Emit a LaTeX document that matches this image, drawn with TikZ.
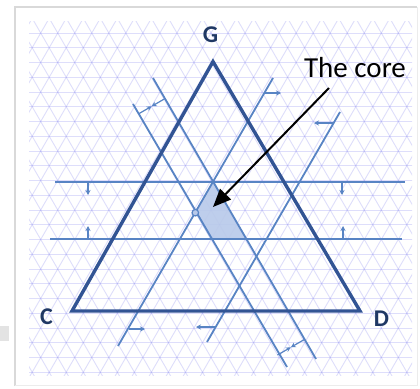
\documentclass[tikz,border=0pt]{standalone}
\usepackage{fontspec}
\setmainfont{Carlito}
\usetikzlibrary{arrows.meta,calc}
\definecolor{tricol}{RGB}{50,84,148}
\definecolor{linecol}{RGB}{88,132,196}
\definecolor{shadecol}{RGB}{184,201,234}
\definecolor{lblcol}{RGB}{31,56,100}
\definecolor{gridcol}{RGB}{130,130,240}
\begin{document}
\begin{tikzpicture}[x=1pt,y=-1pt,
  gridline/.style={draw=gridcol,opacity=0.26,line width=0.9pt},
  triline/.style={draw=tricol,line width=3.4pt,line join=miter},
  inline/.style={draw=linecol,line width=1.8pt},
  push/.style={draw=linecol,line width=1.2pt,-{Stealth[length=5pt,width=5pt]}},
  lbl/.style={text=lblcol,font=\fontsize{24}{25}\selectfont\bfseries,inner sep=0pt},
  pointer/.style={draw=black,line width=2pt,-{Triangle[length=18pt,width=15pt]}}]
\useasboundingbox (0,0) rectangle (420,388);
\fill[white] (0,0) rectangle (420,388);
\fill[gray!22] (0,326) rectangle (9,341);
% card
\draw[gray!30,line width=2.5pt] (15,386) -- (15,7) -- (417,7);
\draw[gray!15,line width=1pt] (15,385) -- (417,385) -- (417,7);
% grid
\begin{scope}
\clip (29,21) rectangle (412,375);
\foreach \k in {-1,...,24} {
  \draw[gridline] (0,{33+14.75*\k}) -- (420,{33+14.75*\k});
}
\foreach \j in {-16,...,36} {
  \pgfmathsetmacro\xo{40.7+17.03*\j}
  \draw[gridline] ({\xo-33*0.5774},0) -- ({\xo+367*0.5774},400);
  \draw[gridline] ({\xo+33*0.5774},0) -- ({\xo-367*0.5774},400);
}
\end{scope}
% core region
\coordinate (k1) at (213,182);
\coordinate (k2) at (245.9,239);
\coordinate (k3) at (210.5,239);
\coordinate (k4) at (195.3,212.7);
\fill[shadecol,opacity=0.9] (k1) -- (k2) -- (k3) -- (k4) -- cycle;
% horizontal lines
\coordinate (h1a) at (55,182); \coordinate (h1b) at (405,182);
\coordinate (h2a) at (50,239); \coordinate (h2b) at (402,239);
\draw[inline] (h1a) -- (h1b);
\draw[inline] (h2a) -- (h2b);
% lines parallel to GD
\coordinate (a1) at (153,78); \coordinate (a2) at (316,359);
\coordinate (b1) at (133,104); \coordinate (b2) at (287,367);
\draw[inline] (a1) -- (a2);
\draw[inline] (b1) -- (b2);
% lines parallel to GC
\coordinate (c1) at (273,78); \coordinate (c2) at (118,346);
\coordinate (d1) at (340,112); \coordinate (d2) at (207,342);
\draw[inline] (c1) -- (c2);
\draw[inline] (d1) -- (d2);
% triangle
\coordinate (g) at (213,61.6);
\coordinate (c) at (72,311);
\coordinate (d) at (360,311);
\draw[triline] (g) -- (c) -- (d) -- cycle;
% push arrows on horizontal lines
\coordinate (p1s) at (88,182); \coordinate (p1e) at (88,195);
\coordinate (p2s) at (342,182); \coordinate (p2e) at (342,195);
\coordinate (p3s) at (88,239); \coordinate (p3e) at (88,226);
\coordinate (p4s) at (343,239); \coordinate (p4e) at (343,226);
\draw[push] (p1s) -- (p1e);
\draw[push] (p2s) -- (p2e);
\draw[push] (p3s) -- (p3e);
\draw[push] (p4s) -- (p4e);
% push arrows on C/D lines
\coordinate (q1s) at (264.3,93); \coordinate (q1e) at (281,93);
\coordinate (q2s) at (128.5,329); \coordinate (q2e) at (145,329);
\coordinate (q3s) at (333.6,123); \coordinate (q3e) at (314,123);
\coordinate (q4s) at (215.8,327); \coordinate (q4e) at (196,327);
\draw[push] (q1s) -- (q1e);
\draw[push] (q2s) -- (q2e);
\draw[push] (q3s) -- (q3e);
\draw[push] (q4s) -- (q4e);
% double markers between A and B
\coordinate (m1b) at (138.3,114); \coordinate (m1a) at (164.9,98.65);
\coordinate (m1) at ($(m1a)!0.5!(m1b)$);
\coordinate (m2b) at (277.5,355); \coordinate (m2a) at (304.1,339.65);
\coordinate (m2) at ($(m2a)!0.5!(m2b)$);
\draw[push] (m1a) -- (m1);
\draw[push] (m1b) -- (m1);
\draw[push] (m2a) -- (m2);
\draw[push] (m2b) -- (m2);
% vertex circle of core
\node[circle,draw=linecol,fill=shadecol,line width=1.2pt,minimum size=6.5pt,inner sep=0pt] (o) at (k4) {};
% labels
\node[lbl] (G) at (210.5,35) {G};
\node[lbl] (C) at (46.5,317) {C};
\node[lbl] (D) at (381.5,318.5) {D};
\node[font=\fontsize{29}{30}\selectfont,inner sep=0pt] (core) at (355,68) {The core};
\coordinate (ptail) at (329,88);
\coordinate (ptip) at (213,207);
\draw[pointer] (ptail) -- (ptip);
\end{tikzpicture}
\end{document}
